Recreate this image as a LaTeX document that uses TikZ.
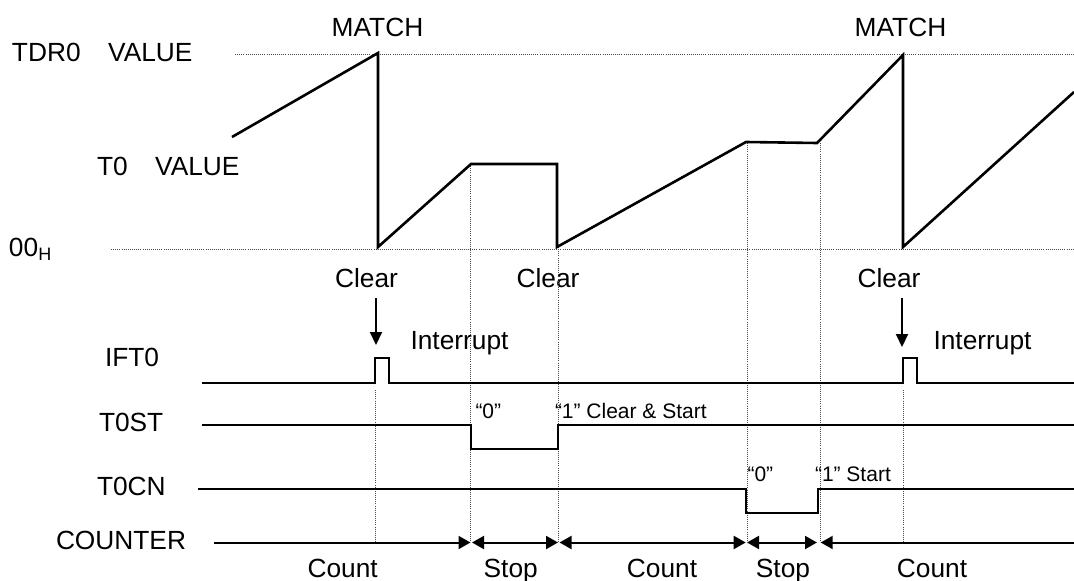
\documentclass[tikz,border=0pt]{standalone}
\usepackage{fontspec}
\setmainfont{Liberation Sans}
\usetikzlibrary{arrows.meta}
\tikzset{
  lbl/.style={inner sep=0pt, outer sep=0pt, font=\fontsize{26.3}{30}\selectfont},
  smalllbl/.style={inner sep=0pt, outer sep=0pt, font=\fontsize{21}{24}\selectfont},
  guide/.style={line width=0.9pt, draw=black!70, dash pattern=on 1pt off 1.1pt},
  wave/.style={line width=2.6pt, line join=miter},
  sig/.style={line width=2.6pt, line join=miter},
  span/.style={line width=2pt, {Triangle[length=12pt,width=13pt]}-{Triangle[length=12pt,width=13pt]}},
  spanr/.style={line width=2pt, -{Triangle[length=12pt,width=13pt]}},
  spanl/.style={line width=2pt, {Triangle[length=12pt,width=13pt]}-},
  clr/.style={line width=2pt, -{Triangle[length=13pt,width=12pt]}}
}
\begin{document}
\begin{tikzpicture}[x=1pt,y=-1pt]
\useasboundingbox (0,0) rectangle (1074,581);

% labels
\node[lbl, anchor=base west] (tdr) at (12,61) {TDR0\hspace{27.5pt}VALUE};
\node[lbl, anchor=base west] (t0v) at (97,175) {T0\hspace{27.5pt}VALUE};
\node[lbl, anchor=base west] (zero) at (9,256) {00\raisebox{-4pt}{\fontsize{18}{18}\selectfont H}};
\node[lbl, anchor=base] (match1) at (377.5,36) {MATCH};
\node[lbl, anchor=base] (match2) at (900.5,36) {MATCH};
\node[lbl, anchor=base] (clear1) at (366.5,287) {Clear};
\node[lbl, anchor=base] (clear2) at (548,287) {Clear};
\node[lbl, anchor=base] (clear3) at (889,287) {Clear};
\node[lbl, anchor=base west] (ift) at (105,366) {IFT0};
\node[lbl, anchor=base west] (tst) at (99,431) {T0ST};
\node[lbl, anchor=base west] (tcn) at (97,495) {T0CN};
\node[lbl, anchor=base west] (cnt) at (56,549) {COUNTER};
\node[lbl, anchor=base] (int1) at (459.5,349) {Interrupt};
\node[lbl, anchor=base] (int2) at (982.5,349) {Interrupt};
\node[smalllbl, anchor=base west] (q0a) at (475.5,418) {“0”};
\node[smalllbl, anchor=base west] (q1a) at (555,418) {“1” Clear \& Start};
\node[smalllbl, anchor=base west] (q0b) at (747.5,481.5) {“0”};
\node[smalllbl, anchor=base west] (q1b) at (815,481.5) {“1” Start};
\node[lbl, anchor=base] (c1) at (342.7,577) {Count};
\node[lbl, anchor=base] (s1) at (510.7,577) {Stop};
\node[lbl, anchor=base] (c2) at (662,577) {Count};
\node[lbl, anchor=base] (s2) at (783,577) {Stop};
\node[lbl, anchor=base] (c3) at (932,577) {Count};

% guide lines
\draw[guide] (235,54) -- (1074,54);
\draw[guide] (111,249) -- (1074,249);
\draw[guide] (470,164) -- (470,542);
\draw[guide] (558,247) -- (558,542);
\draw[guide] (747,143) -- (747,542);
\draw[guide] (820,143) -- (820,542);
\draw[guide] (375,390) -- (375,542);
\draw[guide] (903,390) -- (903,542);

% timer value waveform
\draw[wave] (232,137) -- (378,53) -- (378,247) -- (471,164) -- (557,164) -- (557,247)
  -- (746,142) -- (817,143) -- (903,55) -- (903,247) -- (1074,92);

% signals
\draw[sig] (202,383) -- (375,383) -- (375,358) -- (389,358) -- (389,383)
  -- (903,383) -- (903,358) -- (917,358) -- (917,383) -- (1074,383);
\draw[sig] (202,425) -- (471,425) -- (471,449) -- (558,449) -- (558,425) -- (1074,425);
\draw[sig] (198,489) -- (746,489) -- (746,513) -- (818,513) -- (818,489) -- (1074,489);

% clear arrows
\coordinate (a1s) at (376,298); \coordinate (a1e) at (376,345);
\coordinate (a2s) at (902,298); \coordinate (a2e) at (902,347);
\draw[clr] (a1s) -- (a1e);
\draw[clr] (a2s) -- (a2e);

% counter arrows
\coordinate (k0) at (214,542.5);
\coordinate (k1) at (470.5,542.5);
\coordinate (k2) at (472,542.5);
\coordinate (k3) at (558,542.5);
\coordinate (k4) at (559.5,542.5);
\coordinate (k5) at (745.7,542.5);
\coordinate (k6) at (747,542.5);
\coordinate (k7) at (817,542.5);
\coordinate (k8) at (820.7,542.5);
\coordinate (k9) at (1074,542.5);
\draw[spanr] (k0) -- (k1);
\draw[span] (k2) -- (k3);
\draw[span] (k4) -- (k5);
\draw[span] (k6) -- (k7);
\draw[spanl] (k8) -- (k9);
\end{tikzpicture}
\end{document}
